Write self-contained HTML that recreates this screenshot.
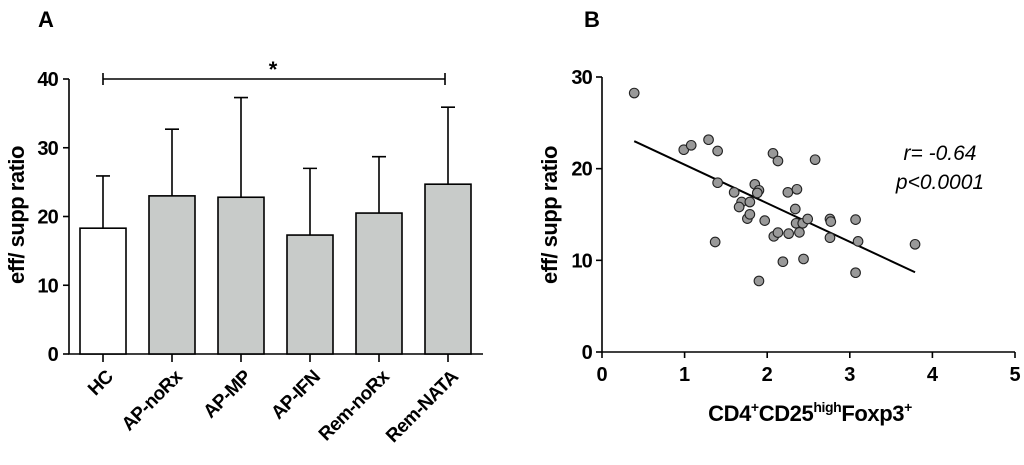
<!DOCTYPE html>
<html><head><meta charset="utf-8"><style>
body{margin:0;background:#fff;}
svg{display:block;font-family:"Liberation Sans",Arial,sans-serif;}
</style></head><body>
<svg id="c" width="1024" height="465"></svg>
<script>
const categories=["HC","AP-noRx","AP-MP","AP-IFN","Rem-noRx","Rem-NATA"];
const barMeans=[18.3,23.0,22.8,17.3,20.5,24.7];
const barErrTop=[25.9,32.7,37.3,27.0,28.7,35.9];
const yTicksA=[0,10,20,30,40];
const scatterX=[0.39,0.99,1.08,1.29,1.40,1.37,1.40,1.60,1.69,1.66,1.79,1.76,1.79,1.85,1.90,1.88,1.90,1.97,2.07,2.13,2.08,2.13,2.19,2.25,2.26,2.36,2.34,2.35,2.39,2.43,2.44,2.49,2.58,2.76,2.77,2.76,3.07,3.10,3.07,3.79];
const scatterY=[28.25,22.07,22.55,23.16,21.93,12.0,18.47,17.42,16.36,15.82,16.36,14.55,15.02,18.29,17.64,17.35,7.75,14.33,21.67,20.84,12.62,13.02,9.85,17.42,12.91,17.75,15.6,14.04,13.05,14.04,10.15,14.51,20.98,14.51,14.22,12.47,14.44,12.07,8.65,11.75];
const fitX=[0.39,3.79];
const fitY=[23.0,8.7];
const xTicksB=[0,1,2,3,4,5];
const yTicksB=[0,10,20,30];

const svg=document.getElementById('c');
const NS='http://www.w3.org/2000/svg';
function mk(tag,attrs,parent,text){const e=document.createElementNS(NS,tag);for(const k in attrs)e.setAttribute(k,attrs[k]);if(text!==undefined)e.textContent=text;(parent||svg).appendChild(e);return e;}

// Panel A
const yA=v=>354-v*(275/40);
const xA=i=>103+i*69;
const gA=mk('g',{});


let t=mk('text',{x:38,y:27,'font-size':22,'font-weight':'bold'},gA,'A');

let ax=mk('path',{d:`M69,${yA(40)} V354 H483`,stroke:'#000','stroke-width':1.6,fill:'none'},gA);

yTicksA.forEach(v=>{
 mk('line',{x1:63,x2:69,y1:yA(v),y2:yA(v),stroke:'#000','stroke-width':1.6},gA);
 const l=mk('text',{x:58,y:yA(v)+7,'text-anchor':'end','font-size':20,'font-weight':'bold','letter-spacing':-0.8},gA,v);
 
});
categories.forEach((c,i)=>{
 const cx=xA(i);
 const e=mk('path',{d:`M${cx},${yA(barMeans[i])} V${yA(barErrTop[i])} M${cx-7},${yA(barErrTop[i])} H${cx+7}`,stroke:'#000','stroke-width':1.6,fill:'none'},gA);
 
 const b=mk('rect',{x:cx-23,y:yA(barMeans[i]),width:46,height:354-yA(barMeans[i]),fill:i===0?'#fff':'#c8cbc9',stroke:'#000','stroke-width':1.6},gA);
 
 mk('line',{x1:cx,x2:cx,y1:354,y2:362,stroke:'#000','stroke-width':1.6},gA);
 const l=mk('text',{x:cx+11,y:378,'text-anchor':'end','font-size':19,'font-weight':'bold','letter-spacing':-0.6,transform:`rotate(-45 ${cx+11} 378)`},gA,c);
 
});
const sig=mk('path',{d:`M${xA(0)},${yA(40)} H${xA(5)-3} M${xA(0)},${yA(40)-6} V${yA(40)+6} M${xA(5)-3},${yA(40)-6} V${yA(40)+6}`,stroke:'#000','stroke-width':1.6,fill:'none'},gA);

t=mk('text',{x:273,y:77,'text-anchor':'middle','font-size':22,'font-weight':'bold'},gA,'*');

t=mk('text',{x:0,y:0,'text-anchor':'middle','font-size':22,'font-weight':'bold','letter-spacing':-0.5,transform:'translate(24 215) rotate(-90)'},gA,'eff/ supp ratio');


// Panel B
const xB=v=>602+v*(413/5);
const yB=v=>352-v*(275/30);
const gB=mk('g',{});


t=mk('text',{x:584,y:27,'font-size':22,'font-weight':'bold'},gB,'B');

ax=mk('path',{d:`M602,${yB(30)} V352 H${xB(5)}`,stroke:'#000','stroke-width':1.6,fill:'none'},gB);

yTicksB.forEach(v=>{
 mk('line',{x1:596,x2:602,y1:yB(v),y2:yB(v),stroke:'#000','stroke-width':1.6},gB);
 const l=mk('text',{x:592,y:yB(v)+7,'text-anchor':'end','font-size':20,'font-weight':'bold','letter-spacing':-0.8},gB,v);
 
});
xTicksB.forEach(v=>{
 mk('line',{x1:xB(v),x2:xB(v),y1:352,y2:358,stroke:'#000','stroke-width':1.6},gB);
 const l=mk('text',{x:xB(v),y:381,'text-anchor':'middle','font-size':20,'font-weight':'bold'},gB,v);
 
});
const fl=mk('line',{x1:xB(fitX[0]),y1:yB(fitY[0]),x2:xB(fitX[1]),y2:yB(fitY[1]),stroke:'#000','stroke-width':2},gB);

scatterX.forEach((x,i)=>{
 const p=mk('circle',{cx:xB(x),cy:yB(scatterY[i]),r:4.8,fill:'#999','stroke':'#222','stroke-width':1.1},gB);
 
});
t=mk('text',{x:940,y:160,'text-anchor':'middle','font-size':21,'font-style':'italic'},gB,'r= -0.64');

t=mk('text',{x:940,y:189,'text-anchor':'middle','font-size':21,'font-style':'italic'},gB,'p<0.0001');

t=mk('text',{x:0,y:0,'text-anchor':'middle','font-size':22,'font-weight':'bold','letter-spacing':-0.5,transform:'translate(557 215) rotate(-90)'},gB,'eff/ supp ratio');

t=mk('text',{x:810,y:421,'text-anchor':'middle','font-size':22,'font-weight':'bold','letter-spacing':-0.4},gB);
t.innerHTML='CD4<tspan dy="-9" font-size="14">+</tspan><tspan dy="9">CD25</tspan><tspan dy="-9" font-size="14">high</tspan><tspan dy="9">Foxp3</tspan><tspan dy="-9" font-size="14">+</tspan>';

</script>
</body></html>
